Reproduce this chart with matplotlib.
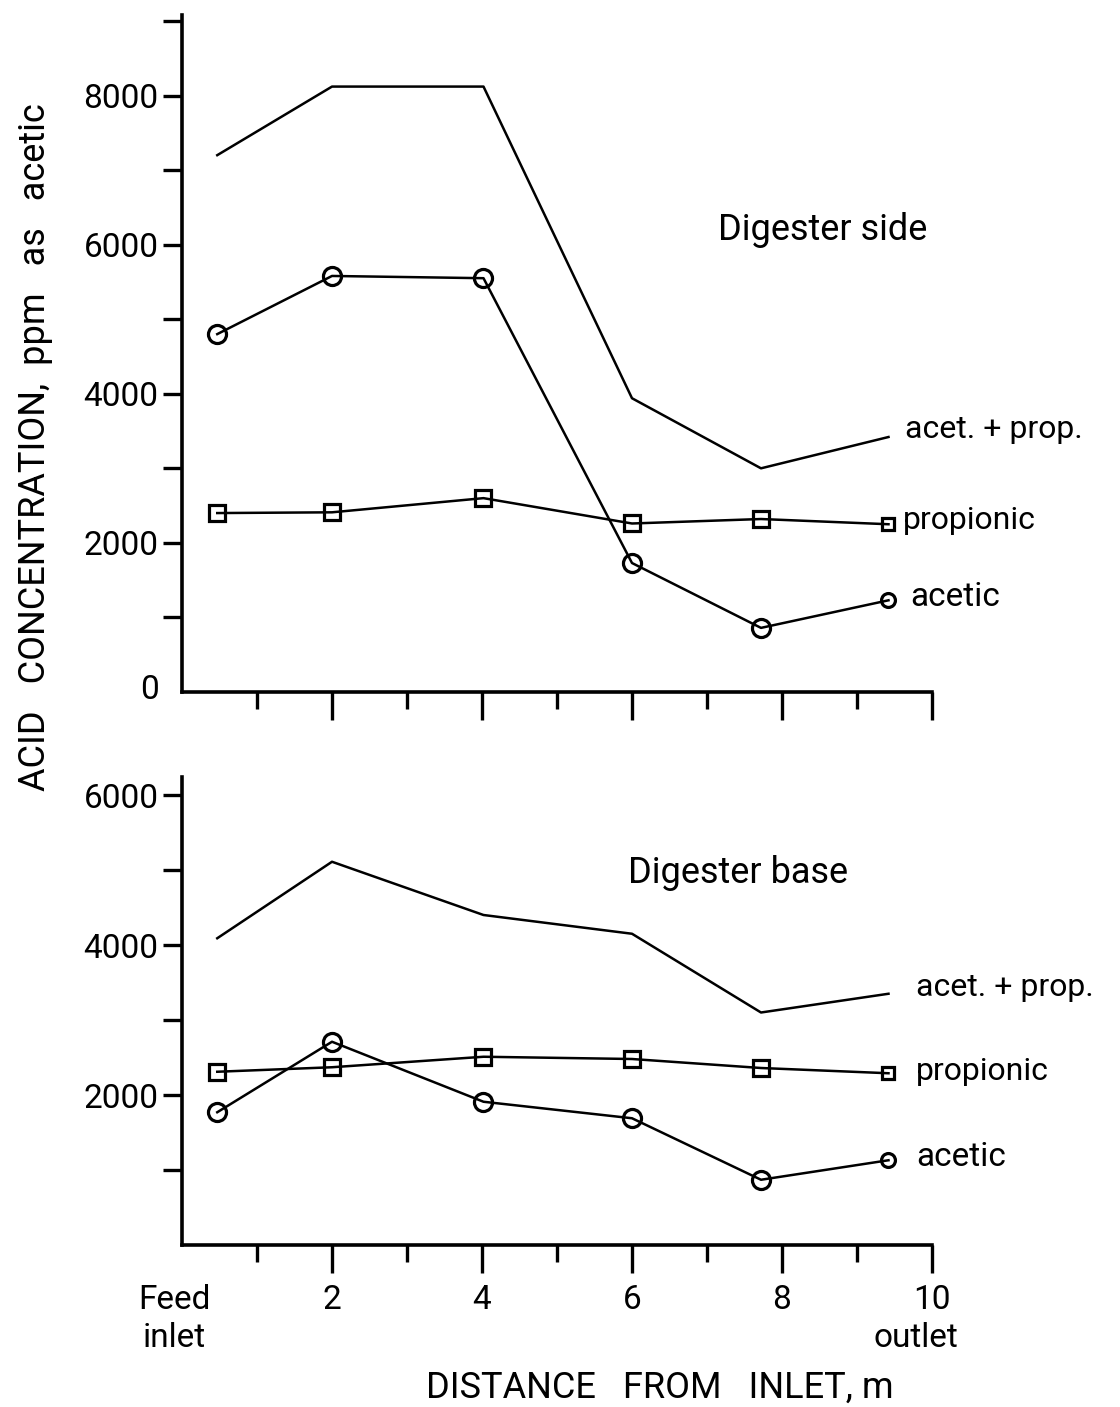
import matplotlib
matplotlib.use("Agg")
import matplotlib.pyplot as plt
import numpy as np

# distance along digester (m)
dist = [0.47, 2.0, 4.02, 6.0, 7.72, 9.42]

# digester side, ppm as acetic
side_total = [7200, 8120, 8120, 3940, 3000, 3420]
side_acetic = [4800, 5580, 5550, 1730, 860, 1230]
side_prop = [2400, 2410, 2600, 2260, 2320, 2250]

# digester base, ppm as acetic
base_total = [4090, 5110, 4400, 4150, 3100, 3350]
base_acetic = [1770, 2710, 1910, 1690, 870, 1130]
base_prop = [2310, 2370, 2510, 2480, 2360, 2290]

x_major = [2, 4, 6, 8, 10]
x_major_labels = ["2", "4", "6", "8", "10"]

W, H = 1120, 1407
FS = 23
plt.rcParams['font.family'] = ['Roboto', 'DejaVu Sans']

fig = plt.figure(figsize=(W / 100, H / 100), dpi=100)


def px(x, y):
    return x / W, 1 - y / H


ax1 = fig.add_axes([182 / W, (H - 692) / H, 750 / W, (692 - 15) / H])
ax2 = fig.add_axes([182 / W, (H - 1245) / H, 750 / W, (1245 - 777) / H])


def draw(ax, tot, ac, pr):
    ax.plot(dist, tot, color='k', lw=1.8)
    ax.plot(dist, ac, color='k', lw=1.8)
    ax.plot(dist, pr, color='k', lw=1.8)
    ax.plot(dist[:-1], ac[:-1], 'o', ms=13, mfc='none', mec='k', mew=2.3)
    ax.plot(dist[:-1], pr[:-1], 's', ms=12, mfc='none', mec='k', mew=2.3)
    ax.plot(dist[-1:], ac[-1:], 'o', ms=10, mfc='none', mec='k', mew=2.3)
    ax.plot(dist[-1:], pr[-1:], 's', ms=9, mfc='none', mec='k', mew=2.3)
    ax.set_xlim(0, 10)
    for s in ['top', 'right']:
        ax.spines[s].set_visible(False)
    for s in ['left', 'bottom']:
        ax.spines[s].set_linewidth(2.6)
    ax.set_xticks(x_major)
    ax.set_xticks([1, 3, 5, 7, 9], minor=True)
    ax.tick_params(axis='x', which='major', direction='out', length=20, width=2.4)
    ax.tick_params(axis='x', which='minor', direction='out', length=12, width=2.4)
    ax.tick_params(axis='y', which='both', direction='out', length=14, width=2.4,
                   labelsize=FS + 1, pad=3)


draw(ax1, side_total, side_acetic, side_prop)
ax1.set_ylim(0, 9080)
ax1.set_yticks([2000, 4000, 6000, 8000])
ax1.set_yticks([1000, 3000, 5000, 7000, 9000], minor=True)
ax1.set_xticklabels([])

draw(ax2, base_total, base_acetic, base_prop)
ax2.set_ylim(0, 6240)
ax2.set_yticks([2000, 4000, 6000])
ax2.set_yticks([1000, 3000, 5000], minor=True)
ax2.set_xticklabels(x_major_labels, fontsize=FS + 1)
ax2.tick_params(axis='x', which='major', pad=8)

# curve labels
fig.text(*px(150, 690), "0", fontsize=FS + 1, ha='center', va='center')
fig.text(*px(718, 230), "Digester side", fontsize=FS + 3, ha='left', va='center')
fig.text(*px(905, 430), "acet. + prop.", fontsize=FS, ha='left', va='center')
fig.text(*px(903, 520), "propionic", fontsize=FS, ha='left', va='center')
fig.text(*px(910, 597), "acetic", fontsize=FS + 1, ha='left', va='center')
fig.text(*px(628, 873), "Digester base", fontsize=FS + 3, ha='left', va='center')
fig.text(*px(916, 987), "acet. + prop.", fontsize=FS, ha='left', va='center')
fig.text(*px(916, 1072), "propionic", fontsize=FS, ha='left', va='center')
fig.text(*px(916, 1157), "acetic", fontsize=FS + 1, ha='left', va='center')

fig.text(*px(174, 1300), "Feed", fontsize=FS + 1, ha='center', va='center')
fig.text(*px(174, 1338), "inlet", fontsize=FS + 1, ha='center', va='center')
fig.text(*px(916, 1338), "outlet", fontsize=FS + 1, ha='center', va='center')
fig.text(*px(660, 1388), "DISTANCE   FROM   INLET, m", fontsize=FS + 3,
         ha='center', va='center')
fig.text(*px(35, 447), "ACID   CONCENTRATION,  ppm   as   acetic", fontsize=FS + 3,
         ha='center', va='center', rotation=90)

fig.savefig("out.png", dpi=100)
